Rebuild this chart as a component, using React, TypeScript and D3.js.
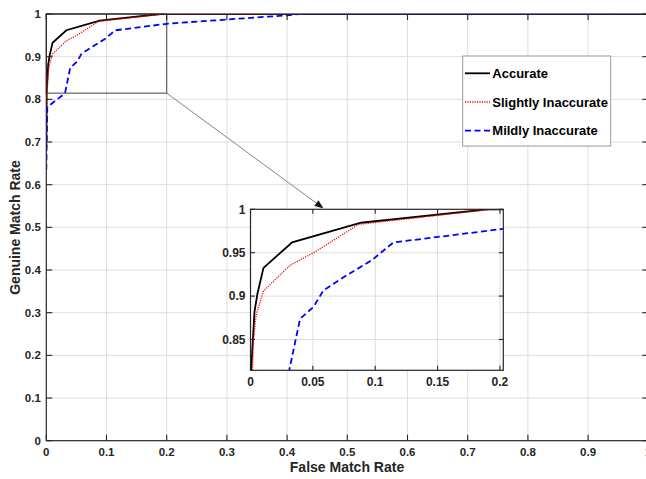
import React from "react";
import * as d3 from "d3";

// ---- data ----
const accurateX = [0, 0.0005, 0.0032, 0.0056, 0.0104, 0.0334, 0.0887, 0.19, 1];
const accurateY = [0.69, 0.814, 0.882, 0.903, 0.9325, 0.962, 0.9845, 1, 1];
const slightlyX = [0, 0.0016, 0.0024, 0.0045, 0.0104, 0.0318, 0.0518, 0.0866, 0.19, 0.2, 1];
const slightlyY = [0.66, 0.814, 0.849, 0.878, 0.906, 0.9356, 0.951, 0.9826, 0.9995, 1, 1];
const mildlyX = [0, 0.0017, 0.031, 0.0358, 0.0398, 0.0505, 0.0585, 0.0772, 0.0973, 0.1146, 0.2027, 0.3, 0.4, 0.42, 1];
const mildlyY = [0.635, 0.782, 0.814, 0.847, 0.874, 0.8875, 0.9067, 0.924, 0.9414, 0.9618, 0.9775, 0.987, 0.997, 1, 1];

const mainXTicks = [0, 0.1, 0.2, 0.3, 0.4, 0.5, 0.6, 0.7, 0.8, 0.9, 1];
const mainYTicks = [0, 0.1, 0.2, 0.3, 0.4, 0.5, 0.6, 0.7, 0.8, 0.9, 1];
const insetXTicks = [0, 0.05, 0.1, 0.15, 0.2];
const insetYTicks = [0.85, 0.9, 0.95, 1];
const zoomX = [0, 0.2];
const zoomY = [0.8145, 1];
const insetXDomain = [0, 0.2027];
const legendLabels = ["Accurate", "Slightly Inaccurate", "Mildly Inaccurate"];

const series = [
  { name: legendLabels[0], xs: accurateX, ys: accurateY, color: "#000000", width: 1.8, dash: "" },
  { name: legendLabels[1], xs: slightlyX, ys: slightlyY, color: "#ff0000", width: 1.3, dash: "1.2 1.2" },
  { name: legendLabels[2], xs: mildlyX, ys: mildlyY, color: "#0000ff", width: 1.8, dash: "6 3.5" },
];

const W = 646;
const H = 479;
const FONT = "'Liberation Sans', Arial, Helvetica, sans-serif";
const AXC = "#262626";
const GRID = "#dedede";

export default function App() {
  const x = d3.scaleLinear().domain([0, 1]).range([46.3, 648.3]);
  const y = d3.scaleLinear().domain([0, 1]).range([440.7, 14]);
  const ix = d3.scaleLinear().domain(insetXDomain).range([250.5, 503.3]);
  const iy = d3.scaleLinear().domain(zoomY).range([370.3, 209.3]);

  const mainLine = d3
    .line<[number, number]>()
    .x((d) => x(d[0]))
    .y((d) => y(d[1]));
  const insetLine = d3
    .line<[number, number]>()
    .x((d) => ix(d[0]))
    .y((d) => iy(d[1]));

  const pts = (s: { xs: number[]; ys: number[] }) =>
    s.xs.map((v, i) => [v, s.ys[i]] as [number, number]);

  const [x0, x1] = x.range();
  const [y0, y1] = y.range();
  const [ix0, ix1] = ix.range();
  const [iy0, iy1] = iy.range();

  const boxL = x(zoomX[0]);
  const boxR = x(zoomX[1]);
  const boxT = y(zoomY[1]);
  const boxB = y(zoomY[0]);

  const arrowStart: [number, number] = [boxR, boxB];
  const arrowEnd: [number, number] = [323, 208];
  const ang = Math.atan2(arrowEnd[1] - arrowStart[1], arrowEnd[0] - arrowStart[0]);
  const ah = 8;
  const aw = 3.2;
  const bx = arrowEnd[0] - ah * Math.cos(ang);
  const by = arrowEnd[1] - ah * Math.sin(ang);
  const headPath = `M${arrowEnd[0]},${arrowEnd[1]} L${bx + aw * Math.sin(ang)},${by - aw * Math.cos(ang)} L${bx - aw * Math.sin(ang)},${by + aw * Math.cos(ang)} Z`;

  const lg = { x: 462.7, y: 56, w: 148, h: 90 };
  const lgRows = [73.3, 102, 130.7];

  return (
    <svg
      width={W}
      height={H}
      style={{ position: "absolute", left: 0, top: 0, background: "#fff" }}
      fontFamily={FONT}
    >
      <defs>
        <clipPath id="mainClip">
          <rect x={x0} y={y1} width={x1 - x0} height={y0 - y1} />
        </clipPath>
        <clipPath id="insetClip">
          <rect x={ix0} y={iy1} width={ix1 - ix0} height={iy0 - iy1} />
        </clipPath>
      </defs>
      <rect x={0} y={0} width={W} height={H} fill="#fff" />

      {/* main grid */}
      {mainXTicks.slice(1, -1).map((t) => (
        <line key={"gx" + t} x1={x(t)} x2={x(t)} y1={y0} y2={y1} stroke={GRID} strokeWidth={1} />
      ))}
      {mainYTicks.slice(1, -1).map((t) => (
        <line key={"gy" + t} x1={x0} x2={x1} y1={y(t)} y2={y(t)} stroke={GRID} strokeWidth={1} />
      ))}

      {/* zoom box */}
      <rect
        x={boxL}
        y={boxT}
        width={boxR - boxL}
        height={boxB - boxT}
        fill="none"
        stroke="#555"
        strokeWidth={1.1}
      />

      {/* main curves */}
      <g clipPath="url(#mainClip)">
        {series.map((s) => (
          <path
            key={s.name}
            d={mainLine(pts(s)) || ""}
            fill="none"
            stroke={s.color}
            strokeWidth={s.width}
            strokeDasharray={s.dash || undefined}
          />
        ))}
      </g>

      {/* main axes border */}
      <rect x={x0} y={y1} width={x1 - x0} height={y0 - y1} fill="none" stroke={AXC} strokeWidth={1.2} />
      {mainXTicks.map((t) => (
        <g key={"tx" + t}>
          <line x1={x(t)} x2={x(t)} y1={y0} y2={y0 - 6} stroke={AXC} strokeWidth={1.1} />
          <line x1={x(t)} x2={x(t)} y1={y1} y2={y1 + 6} stroke={AXC} strokeWidth={1.1} />
          <text
            x={x(t)}
            y={y0 + 15.5}
            textAnchor="middle"
            fontSize={11.5}
            fontWeight="bold"
            fill={AXC}
          >
            {String(t)}
          </text>
        </g>
      ))}
      {mainYTicks.map((t) => (
        <g key={"ty" + t}>
          <line x1={x0} x2={x0 + 6} y1={y(t)} y2={y(t)} stroke={AXC} strokeWidth={1.1} />
          <line x1={x1} x2={x1 - 6} y1={y(t)} y2={y(t)} stroke={AXC} strokeWidth={1.1} />
          <text
            x={x0 - 5.5}
            y={y(t) + 4}
            textAnchor="end"
            fontSize={11.5}
            fontWeight="bold"
            fill={AXC}
          >
            {String(t)}
          </text>
        </g>
      ))}
      <text x={347} y={472} textAnchor="middle" fontSize={14} fontWeight="bold" fill={AXC}>
        False Match Rate
      </text>
      <text
        transform={`translate(20,227.5) rotate(-90)`}
        textAnchor="middle"
        fontSize={14}
        fontWeight="bold"
        fill={AXC}
      >
        Genuine Match Rate
      </text>

      {/* arrow */}
      <line
        x1={arrowStart[0]}
        y1={arrowStart[1]}
        x2={bx}
        y2={by}
        stroke="#777"
        strokeWidth={0.9}
      />
      <path d={headPath} fill="#111" stroke="#111" strokeWidth={0.5} />

      {/* inset */}
      <rect x={ix0} y={iy1} width={ix1 - ix0} height={iy0 - iy1} fill="#fff" />
      {insetXTicks.slice(1).map((t) => (
        <line key={"igx" + t} x1={ix(t)} x2={ix(t)} y1={iy0} y2={iy1} stroke={GRID} strokeWidth={1} />
      ))}
      {insetYTicks.slice(0, -1).map((t) => (
        <line key={"igy" + t} x1={ix0} x2={ix1} y1={iy(t)} y2={iy(t)} stroke={GRID} strokeWidth={1} />
      ))}
      <g clipPath="url(#insetClip)">
        {series.map((s) => (
          <path
            key={"i" + s.name}
            d={insetLine(pts(s)) || ""}
            fill="none"
            stroke={s.color}
            strokeWidth={s.width}
            strokeDasharray={s.dash || undefined}
          />
        ))}
      </g>
      <rect x={ix0} y={iy1} width={ix1 - ix0} height={iy0 - iy1} fill="none" stroke={AXC} strokeWidth={1.2} />
      {insetXTicks.map((t) => (
        <g key={"itx" + t}>
          <line x1={ix(t)} x2={ix(t)} y1={iy0} y2={iy0 - 4.5} stroke={AXC} strokeWidth={1.1} />
          <line x1={ix(t)} x2={ix(t)} y1={iy1} y2={iy1 + 4.5} stroke={AXC} strokeWidth={1.1} />
          <text
            x={ix(t)}
            y={iy0 + 15.8}
            textAnchor="middle"
            fontSize={12}
            fontWeight="bold"
            fill={AXC}
          >
            {String(t)}
          </text>
        </g>
      ))}
      {insetYTicks.map((t) => (
        <g key={"ity" + t}>
          <line x1={ix0} x2={ix0 + 4.5} y1={iy(t)} y2={iy(t)} stroke={AXC} strokeWidth={1.1} />
          <line x1={ix1} x2={ix1 - 4.5} y1={iy(t)} y2={iy(t)} stroke={AXC} strokeWidth={1.1} />
          <text
            x={ix0 - 5}
            y={iy(t) + 4.2}
            textAnchor="end"
            fontSize={12}
            fontWeight="bold"
            fill={AXC}
          >
            {String(t)}
          </text>
        </g>
      ))}

      {/* legend */}
      <rect x={lg.x} y={lg.y} width={lg.w} height={lg.h} fill="#fff" stroke="#999" strokeWidth={1} />
      {series.map((s, i) => (
        <g key={"lg" + s.name}>
          <line
            x1={465}
            x2={490}
            y1={lgRows[i]}
            y2={lgRows[i]}
            stroke={s.color}
            strokeWidth={s.width}
            strokeDasharray={s.dash || undefined}
          />
          <text x={492.3} y={lgRows[i] + 4.6} fontSize={13} fontWeight="bold" fill="#000">
            {s.name}
          </text>
        </g>
      ))}
    </svg>
  );
}
